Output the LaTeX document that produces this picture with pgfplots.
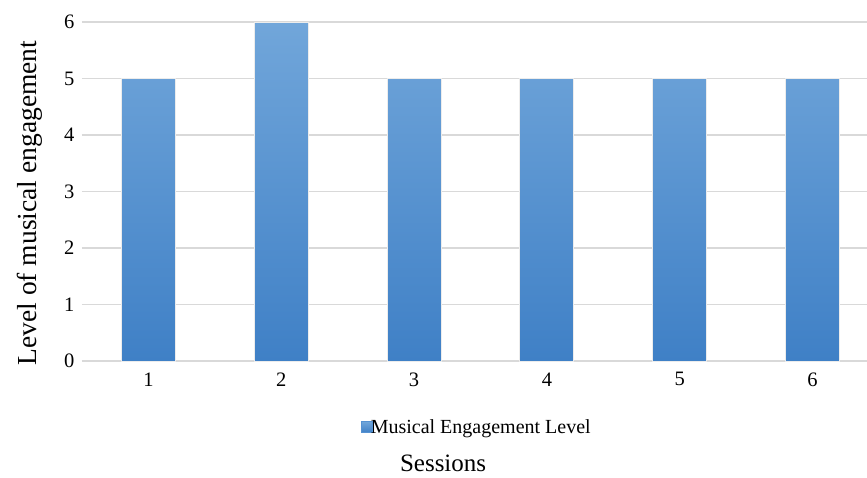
\documentclass[border=0pt]{standalone}
\usepackage{pgfplots}
\pgfplotsset{compat=1.18}
\usepackage{fontspec}
\setmainfont{Liberation Serif}
\definecolor{bartop}{HTML}{71A6DA}
\definecolor{barbot}{HTML}{3F80C6}
\definecolor{barmid}{HTML}{5692D2}
\definecolor{gridc}{HTML}{D9D9D9}
\begin{document}
\begin{tikzpicture}[x=1pt,y=1pt]
\begin{axis}[
  at={(82pt,116pt)}, anchor=south west,
  scale only axis, width=785pt, height=339pt,
  ybar, bar width=54pt,
  xmin=0.5, xmax=6.41, ymin=0, ymax=6,
  xtick={1,2,3,4,5,6}, ytick={0,1,2,3,4,5,6},
  axis line style={draw=none},
  major tick length=0pt,
  ymajorgrids, grid style={gridc, line width=1.2pt},
  /pgf/number format/assume math mode=true,
  tick label style={font=\fontsize{20.5}{22}\selectfont},
  yticklabel style={xshift=-4pt},
  xticklabel style={yshift=-8pt},
  clip=false,
  ylabel={Level of musical engagement},
  ylabel style={font=\fontsize{27.5}{30}\selectfont, at={(axis description cs:-0.066,0.466)}, anchor=center, rotate=0},
  xlabel={Sessions},
  xlabel style={font=\fontsize{25}{28}\selectfont, at={(axis description cs:0.46,-0.303)}, anchor=center},
  legend style={at={(axis description cs:0.503,-0.195)}, anchor=center, draw=none, fill=none,
    font=\fontsize{20}{22}\selectfont, inner sep=0pt},
  legend image code/.code={\fill[barmid] (0pt,-5.5pt) rectangle (11pt,5.5pt);},
  legend cell align=left,
]
\addplot[draw=gray!15, line width=0.8pt, top color=bartop, bottom color=barbot] coordinates {(1,5) (2,6) (3,5) (4,5) (5,5) (6,5)};
\addlegendentry{\hspace{-4pt}Musical Engagement Level}
\end{axis}
\pgfresetboundingbox
\path (0pt,0pt) rectangle (867pt,477pt);
\end{tikzpicture}
\end{document}
